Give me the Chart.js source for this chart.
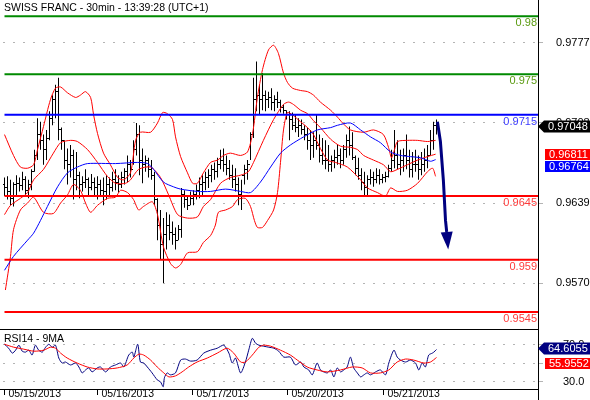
<!DOCTYPE html>
<html lang="en">
<head>
  <meta charset="UTF-8" />
  <title>Swiss Franc 30min</title>
  <script src="https://cdn.jsdelivr.net/npm/chart.js"></script>
  <style>
    body { margin: 0; background: #ffffff; }
    .wrap { position: relative; width: 590px; height: 400px; overflow: hidden; }
    #priceChart { position: absolute; left: 0; top: 0; }
    #rsiChart { position: absolute; left: 0; top: 329px; }
  </style>
</head>
<body>
  <div class="wrap">
    <canvas id="priceChart" width="590" height="329"></canvas>
    <canvas id="rsiChart" width="590" height="71"></canvas>
  </div>

  <script>
    const titleText = 'SWISS FRANC - 30min - 13:39:28 (UTC+1)';

    // 30 min bars, index 0 = first bar of 05/15/2013
    const highs = [
      .9661,.9662,.9659,.9657,.9663,.9661,.9666,.9662,.9659,.9668,
      .9685,.9712,.9709,.9698,.9702,.9718,.9732,.9741,.9747,.9704,
      .9693,.9686,.9689,.9685,.9683,.9666,.9662,.9668,.9661,.9664,
      .9661,.9662,.9659,.9661,.9663,.9661,.9666,.9668,.9663,.9666,
      .9669,.9680,.9676,.9693,.9708,.9706,.9686,.9680,.9678,.9676,
      .9666,.9643,.9633,.9626,.9631,.9629,.9623,.9618,.9620,.9652,
      .9650,.9646,.9649,.9650,.9655,.9661,.9663,.9666,.9668,.9672,
      .9674,.9678,.9685,.9686,.9680,.9676,.9672,.9669,.9661,.9659,
      .9672,.9676,.9700,.9747,.9761,.9741,.9751,.9736,.9735,.9738,
      .9732,.9735,.9728,.9724,.9719,.9718,.9717,.9715,.9712,.9711,
      .9706,.9704,.9702,.9700,.9715,.9698,.9695,.9693,.9689,.9680,
      .9685,.9689,.9686,.9689,.9698,.9705,.9700,.9680,.9678,.9669,
      .9666,.9663,.9668,.9666,.9669,.9668,.9664,.9666,.9672,.9685,
      .9702,.9693,.9685,.9686,.9698,.9685,.9683,.9685,.9680,.9683,
      .9686,.9689,.9702,.9709,.9711
    ];
    const lows = [
      .9645,.9642,.9637,.9636,.9646,.9649,.9650,.9646,.9643,.9650,
      .9666,.9676,.9685,.9672,.9676,.9693,.9706,.9712,.9693,.9685,
      .9668,.9655,.9661,.9642,.9650,.9643,.9649,.9652,.9645,.9650,
      .9646,.9642,.9646,.9637,.9642,.9646,.9649,.9650,.9648,.9652,
      .9655,.9657,.9661,.9672,.9680,.9663,.9656,.9666,.9661,.9659,
      .9637,.9607,.9590,.9570,.9599,.9607,.9603,.9599,.9607,.9609,
      .9635,.9633,.9637,.9637,.9642,.9643,.9646,.9650,.9652,.9657,
      .9659,.9661,.9668,.9666,.9663,.9659,.9652,.9649,.9637,.9633,
      .9655,.9659,.9676,.9695,.9718,.9715,.9719,.9718,.9721,.9719,
      .9718,.9721,.9717,.9716,.9711,.9693,.9702,.9700,.9696,.9698,
      .9693,.9685,.9676,.9678,.9685,.9674,.9672,.9668,.9666,.9666,
      .9669,.9672,.9669,.9672,.9678,.9680,.9676,.9663,.9659,.9650,
      .9646,.9645,.9655,.9653,.9656,.9655,.9656,.9657,.9661,.9666,
      .9669,.9668,.9663,.9666,.9668,.9661,.9661,.9666,.9659,.9663,
      .9666,.9669,.9680,.9685,.9698
    ];
    const opens = [
      .9655,.9652,.9649,.9643,.9655,.9656,.9654,.9659,.9650,.9655,
      .9666,.9680,.9698,.9693,.9685,.9695,.9712,.9728,.9735,.9702,
      .9693,.9676,.9672,.9680,.9659,.9663,.9655,.9657,.9659,.9652,
      .9657,.9652,.9655,.9650,.9649,.9655,.9652,.9659,.9657,.9655,
      .9661,.9666,.9672,.9668,.9685,.9698,.9676,.9672,.9676,.9668,
      .9663,.9642,.9620,.9603,.9612,.9620,.9614,.9612,.9607,.9616,
      .9646,.9642,.9637,.9643,.9646,.9650,.9655,.9657,.9661,.9663,
      .9668,.9666,.9672,.9676,.9672,.9669,.9663,.9659,.9655,.9646,
      .9663,.9668,.9672,.9698,.9728,.9732,.9728,.9732,.9728,.9730,
      .9726,.9728,.9726,.9721,.9719,.9715,.9711,.9706,.9704,.9706,
      .9702,.9698,.9693,.9689,.9693,.9689,.9680,.9676,.9676,.9672,
      .9676,.9678,.9680,.9676,.9685,.9693,.9689,.9678,.9669,.9663,
      .9657,.9652,.9659,.9661,.9659,.9663,.9659,.9661,.9662,.9669,
      .9676,.9680,.9672,.9676,.9680,.9676,.9668,.9672,.9672,.9668,
      .9672,.9676,.9680,.9693,.9706
    ];
    const closes = [
      .9652,.9649,.9643,.9655,.9656,.9654,.9659,.9650,.9655,.9666,
      .9680,.9698,.9693,.9685,.9695,.9712,.9728,.9735,.9702,.9693,
      .9676,.9672,.9680,.9659,.9663,.9655,.9657,.9659,.9652,.9657,
      .9652,.9655,.9650,.9649,.9655,.9652,.9659,.9657,.9655,.9661,
      .9666,.9672,.9668,.9685,.9698,.9676,.9672,.9676,.9668,.9663,
      .9642,.9620,.9603,.9612,.9620,.9614,.9612,.9607,.9616,.9646,
      .9642,.9637,.9643,.9646,.9650,.9655,.9657,.9661,.9663,.9668,
      .9666,.9672,.9676,.9672,.9669,.9663,.9659,.9655,.9646,.9663,
      .9668,.9672,.9698,.9728,.9732,.9728,.9732,.9728,.9730,.9726,
      .9728,.9726,.9721,.9719,.9715,.9711,.9706,.9704,.9706,.9702,
      .9698,.9693,.9689,.9693,.9689,.9680,.9676,.9676,.9672,.9676,
      .9678,.9680,.9676,.9685,.9693,.9689,.9678,.9669,.9663,.9657,
      .9652,.9659,.9661,.9659,.9663,.9659,.9661,.9662,.9669,.9676,
      .9680,.9672,.9676,.9680,.9676,.9668,.9672,.9672,.9668,.9672,
      .9676,.9680,.9693,.9706,.97048
    ];

    // [bar index, price]
    const upperBand = [[0,.9698],[3,.9680],[5.3,.9670],[7.7,.9669],[9.7,.9672],[11,.9685],[13,.9705],[15.3,.9728],[17,.9738],[18.7,.9739],[21,.9734],[23.7,.9730],[25.3,.9732],[27,.9735],[28.7,.9730],[29.7,.9715],[31,.9699],[33,.9682],[35.3,.9672],[37.7,.9661],[39.7,.9659],[42,.9665],[43.7,.9693],[45.3,.9700],[48.7,.9700],[51,.9708],[52.7,.9717],[54.3,.9716],[56,.9711],[57,.9696],[58.7,.9679],[61,.9665],[62.7,.9656],[64.3,.9656],[66.3,.9665],[68.7,.9674],[71,.9676],[73,.9680],[75.3,.9682],[78.7,.9680],[81,.9683],[82.7,.9699],[84.3,.9730],[86,.9754],[88,.9771],[89.7,.9775],[91.3,.9768],[93,.9751],[94.3,.9743],[96,.9738],[98.7,.9736],[101,.9735],[103,.9732],[105.3,.9726],[108.7,.9719],[111,.9713],[112.7,.9708],[115.3,.9702],[119.7,.9700],[123,.9702],[126.3,.9698],[128,.9687],[129,.9678],[130,.9685],[131,.9692],[134.3,.9693],[137.7,.9693],[141,.9692],[143.7,.9693]];
    const middleBand = [[0,.9629],[2,.9637],[5.3,.9643],[7.7,.9648],[9.7,.9659],[13,.9668],[16.3,.9682],[18.7,.9691],[22,.9693],[24.3,.9692],[27.7,.9685],[31,.9674],[34.3,.9662],[37,.9656],[40.3,.9656],[42,.9659],[44.7,.9668],[48.7,.9670],[52,.9661],[54.7,.9646],[57.7,.9629],[61,.9626],[64.3,.9627],[66.3,.9636],[68.7,.9642],[72,.9656],[75.3,.9661],[78.7,.9663],[81.3,.9666],[83,.9674],[86.3,.9693],[89.7,.9711],[93,.9724],[94.7,.9726],[96.3,.9724],[98.7,.9719],[101,.9716],[103,.9710],[105.3,.9704],[108.7,.9694],[112,.9688],[115.3,.9687],[117.7,.9685],[119.7,.9680],[123,.9676],[126.3,.9672],[128.7,.9666],[131,.9668],[134.3,.9672],[137.7,.9676],[141,.9679],[143.7,.96811]];
    const lowerBand = [[0.3,.9564],[2,.9593],[3,.9616],[5.3,.9633],[7.7,.9639],[9.7,.9644],[13,.9631],[16.3,.9630],[18.7,.9639],[21,.9646],[23,.9655],[25.3,.9650],[27,.9639],[28.7,.9631],[31,.9637],[34.3,.9643],[37,.9644],[38.7,.9650],[41,.9648],[43,.9642],[44.7,.9633],[46.3,.9636],[49.3,.9640],[51,.9629],[53,.9601],[55.3,.9587],[57,.9583],[58.7,.9586],[61,.9596],[64.3,.9597],[66.3,.9605],[68.7,.9611],[70.3,.9620],[71.3,.9631],[73.7,.9633],[76,.9636],[77.7,.9642],[80.3,.9643],[82,.9636],[83.3,.9624],[84.3,.9618],[86,.9618],[87.7,.9624],[89.7,.9633],[91,.9648],[92,.9674],[93,.9702],[94.3,.9717],[96,.9715],[98.7,.9709],[101,.9704],[103,.9698],[105.3,.9686],[107.7,.9676],[110.3,.9674],[114.3,.9670],[118.7,.9659],[121,.9652],[124.3,.9648],[127,.9645],[128.7,.9652],[131,.9649],[134.3,.9650],[137.7,.9656],[141,.9666],[142.7,.9669],[143.7,.9662]];
    const maLine = [[0,.9581],[3,.9593],[7.7,.9607],[9.7,.9613],[12,.9624],[14.3,.9636],[17.7,.9653],[21,.9665],[24.3,.9670],[27.7,.9673],[37,.9673],[44.3,.9674],[47.7,.9673],[49.7,.9668],[53,.9657],[56.3,.9653],[58.7,.9651],[64.3,.9649],[68.7,.9649],[73.7,.9651],[78.7,.9649],[82,.9648],[85.3,.9657],[88.7,.9670],[92,.9682],[95.3,.9689],[99.7,.9696],[104.3,.9702],[108.7,.9704],[111,.9706],[115.3,.9708],[118.7,.9702],[122,.9696],[125.3,.9691],[128.7,.9683],[132,.9680],[135.3,.9679],[138.7,.9678],[142,.9675],[143.7,.96764]];

    // RSI14 and its 9 period average, [bar index, value]
    const rsiLine = [[0,70.3],[1.4,66.0],[2.6,60.7],[3.7,63.9],[4.8,69.3],[5.9,62.8],[7,61.8],[8.1,63.9],[9.2,58.6],[10.3,69.3],[11.4,63.9],[12.6,61.8],[13.7,67.1],[14.8,70.3],[15.9,67.1],[17,69.3],[18.1,55.4],[19.2,50.0],[20.3,51.1],[22,47.9],[23.7,50.0],[24.8,45.7],[25.9,39.3],[27,42.5],[28.1,44.7],[29.2,40.4],[30.9,44.7],[32,45.7],[33.7,40.4],[35.3,45.7],[37,47.9],[38.7,50.0],[39.8,45.7],[41.4,58.6],[42.6,61.8],[43.1,56.4],[44.4,70.3],[45.3,51.1],[46.4,50.0],[47.6,45.7],[49.2,39.3],[50.9,31.8],[52,29.6],[52.9,24.3],[53.3,34.0],[54.2,39.3],[55.3,37.2],[57,39.3],[58.7,53.2],[60.3,54.3],[62,52.1],[64.2,53.2],[66.4,60.7],[68.7,63.9],[70.9,66.0],[73.1,69.3],[74.8,60.7],[75.9,50.0],[77,55.4],[78.7,39.3],[80.3,51.1],[81.4,63.9],[82.6,76.7],[83.7,71.4],[84.8,69.3],[86.4,68.2],[88.1,67.1],[89.8,66.0],[91.4,62.8],[93.1,56.4],[95.3,56.4],[97,47.9],[98.7,51.1],[99.8,45.7],[101.4,42.5],[102.6,37.2],[104.2,50.0],[105.3,42.5],[106.4,40.4],[107.6,39.3],[108.7,42.5],[109.8,35.0],[110.9,44.7],[112,40.4],[113.1,42.5],[114.2,45.7],[115.3,56.4],[116.4,44.7],[117.6,39.3],[118.7,35.0],[119.8,37.2],[120.9,39.3],[122,37.2],[123.7,40.4],[125.3,42.5],[127,37.2],[128.1,50.0],[129.8,63.9],[130.9,56.4],[132,53.2],[133.7,51.1],[135.3,53.2],[137,50.0],[138.1,42.5],[139.2,50.0],[140.3,45.7],[141.4,58.6],[142.6,60.7],[143.1,61.8],[144,64.6055]];
    const rsiAvg = [[0,70.3],[3.1,67.1],[6.4,65.0],[9.8,62.8],[13.1,63.9],[15.3,67.1],[17,66.0],[18.7,60.7],[20.9,55.4],[24.2,50.0],[27.6,45.7],[30.9,43.6],[34.2,43.6],[37.6,44.7],[40.9,47.9],[43.1,55.4],[44.8,59.6],[46.4,58.6],[48.7,53.2],[50.9,45.7],[53.1,39.3],[54.8,35.0],[57,36.1],[59.2,40.4],[61.4,45.7],[64.2,51.1],[67.6,55.4],[70.9,60.7],[74.2,66.0],[76.4,60.7],[78.7,51.1],[80.3,51.1],[82.6,58.6],[84.8,67.1],[86.4,69.3],[88.7,68.2],[92,63.9],[95.3,58.6],[97.6,53.2],[100.9,45.7],[104.2,42.5],[107.6,40.4],[112,42.5],[115.9,45.7],[119.2,44.7],[122,39.3],[125.3,39.3],[128.1,42.5],[130.9,51.1],[133.7,54.3],[136.4,53.2],[139.8,50.0],[142,51.1],[144,55.9552]];

    const levelValues = [0.98, 0.975, 0.9715, 0.9645, 0.959, 0.9545];
    const levelColors = ['#008a00', '#008a00', '#0000ff', '#ff0000', '#ff0000', '#ff0000'];
    const levelTextColors = ['#5a9a10', '#5a9a10', '#3b3bff', '#ff3b3b', '#ff3b3b', '#ff3b3b'];

    const priceTicks = [0.9777, 0.9708, 0.9639, 0.9570];
    const rsiTicks = [30, 50, 70];
    const rsiTickLabels = ['30.0', '', '70.0'];
    const dayTicks = [0, 31, 62.7, 94.3, 126.3];
    const dayLabels = ['05/15/2013', '05/16/2013', '05/17/2013', '05/20/2013', '05/21/2013'];

    const arrowPath = [[144.3, 0.9709], [145.3, 0.9692], [146.3, 0.9658], [147, 0.9624], [147.4, 0.9614]];
    const arrowTip = [147.9, 0.9599];

    const xMin = -0.5, xMax = 177.83;
    const priceMin = 0.95304, priceMax = 0.9814;
    const rsiMin = 21.9, rsiMax = 86.8;

    Chart.defaults.font.family = "'Liberation Sans', Arial, sans-serif";
    Chart.defaults.font.size = 11;
    Chart.defaults.color = '#000';

    const toPoints = pairs => pairs.map(p => ({ x: p[0], y: p[1] }));
    const lineSet = (pairs, color, order) => ({
      type: 'line', data: toPoints(pairs), borderColor: color, borderWidth: 1,
      pointRadius: 0, tension: 0.25, order: order
    });

    function arrowBox(ctx, tipX, cy, color, text) {
      ctx.fillStyle = color;
      ctx.beginPath();
      ctx.moveTo(tipX, cy);
      ctx.lineTo(tipX + 6, cy - 6);
      ctx.lineTo(590, cy - 6);
      ctx.lineTo(590, cy + 6);
      ctx.lineTo(tipX + 6, cy + 6);
      ctx.closePath();
      ctx.fill();
      ctx.fillStyle = '#fff';
      ctx.fillText(text, tipX + 10, cy + 0.5);
    }

    function flatBox(ctx, left, top, color, text) {
      ctx.fillStyle = color;
      ctx.fillRect(left, top, 590 - left, 11);
      ctx.fillStyle = '#fff';
      ctx.fillText(text, left + 4, top + 6);
    }

    const ohlcTicks = {
      id: 'ohlcTicks',
      afterDatasetDraw(chart, args) {
        if (args.index !== 0) return;
        const { ctx, scales: { x, y } } = chart;
        ctx.save();
        ctx.fillStyle = '#000';
        for (let i = 0; i < closes.length; i++) {
          const col = Math.round(x.getPixelForValue(i) - 0.5);
          ctx.fillRect(col - 1, Math.round(y.getPixelForValue(opens[i]) - 0.5), 1, 1);
          ctx.fillRect(col + 1, Math.round(y.getPixelForValue(closes[i]) - 0.5), 1, 1);
        }
        ctx.restore();
      }
    };

    const priceDecor = {
      id: 'priceDecor',
      afterDatasetsDraw(chart) {
        const { ctx, scales: { x, y } } = chart;
        // forecast arrow
        const pts = arrowPath.map(p => [x.getPixelForValue(p[0]), y.getPixelForValue(p[1])]);
        const tip = [x.getPixelForValue(arrowTip[0]), y.getPixelForValue(arrowTip[1])];
        ctx.save();
        ctx.strokeStyle = '#000080';
        ctx.fillStyle = '#000080';
        ctx.lineWidth = 3;
        ctx.lineJoin = 'round';
        ctx.beginPath();
        pts.forEach((p, i) => i ? ctx.lineTo(p[0], p[1]) : ctx.moveTo(p[0], p[1]));
        ctx.stroke();
        const last = pts[pts.length - 1];
        const dx = tip[0] - last[0], dy = tip[1] - last[1];
        const len = Math.hypot(dx, dy);
        const nx = -dy / len * 6, ny = dx / len * 6;
        ctx.beginPath();
        ctx.moveTo(tip[0], tip[1]);
        ctx.lineTo(last[0] + nx, last[1] + ny);
        ctx.lineTo(last[0] - nx, last[1] - ny);
        ctx.closePath();
        ctx.fill();
        ctx.restore();
      },
      afterDraw(chart) {
        const { ctx, chartArea: area, scales: { y } } = chart;
        ctx.save();
        // right frame line
        ctx.strokeStyle = '#000';
        ctx.lineWidth = 1;
        ctx.beginPath();
        ctx.moveTo(area.right + 0.5, 0);
        ctx.lineTo(area.right + 0.5, chart.height);
        ctx.stroke();

        ctx.font = "10.5px 'Liberation Sans', Arial, sans-serif";
        ctx.fillStyle = '#000';
        ctx.textBaseline = 'alphabetic';
        ctx.textAlign = 'left';
        ctx.fillText(titleText, 4, 11);

        ctx.font = "11px 'Liberation Sans', Arial, sans-serif";
        ctx.textAlign = 'right';
        ctx.textBaseline = 'middle';
        levelValues.forEach((v, i) => {
          ctx.fillStyle = levelTextColors[i];
          ctx.fillText(String(v), area.right - 1, y.getPixelForValue(v) + 7);
        });

        ctx.textAlign = 'left';
        const lastClose = closes[closes.length - 1];
        const lastMid = middleBand[middleBand.length - 1][1];
        const lastMa = maLine[maLine.length - 1][1];
        arrowBox(ctx, area.right, Math.round(y.getPixelForValue(lastClose)) - 0.5, '#000000', lastClose.toFixed(5));
        const midTop = Math.round(y.getPixelForValue(lastMid) - 5.5);
        flatBox(ctx, area.right + 7, midTop, '#ff0000', lastMid.toFixed(5));
        const maTop = Math.max(midTop + 12, Math.round(y.getPixelForValue(lastMa) - 5.5));
        flatBox(ctx, area.right + 7, maTop, '#0000ff', lastMa.toFixed(5));
        ctx.restore();
      }
    };

    const rsiDecor = {
      id: 'rsiDecor',
      afterDraw(chart) {
        const { ctx, chartArea: area, scales: { y } } = chart;
        ctx.save();
        ctx.strokeStyle = '#000';
        ctx.lineWidth = 1;
        ctx.beginPath();
        ctx.moveTo(0, area.top + 0.5);
        ctx.lineTo(area.right, area.top + 0.5);
        ctx.moveTo(0, area.bottom + 0.5);
        ctx.lineTo(area.right, area.bottom + 0.5);
        ctx.moveTo(area.right + 0.5, 0);
        ctx.lineTo(area.right + 0.5, chart.height);
        ctx.stroke();

        ctx.font = "10.5px 'Liberation Sans', Arial, sans-serif";
        ctx.fillStyle = '#000';
        ctx.textBaseline = 'alphabetic';
        ctx.fillText('RSI14 - 9MA', 4, 13);

        ctx.font = "11px 'Liberation Sans', Arial, sans-serif";
        ctx.textBaseline = 'middle';
        const lastRsi = rsiLine[rsiLine.length - 1][1];
        const lastAvg = rsiAvg[rsiAvg.length - 1][1];
        const rsiY = Math.round(y.getPixelForValue(lastRsi)) - 1.5;
        arrowBox(ctx, area.right, rsiY, '#000080', lastRsi.toFixed(4));
        const avgTop = Math.max(Math.round(rsiY + 9), Math.round(y.getPixelForValue(lastAvg) - 5.5));
        flatBox(ctx, area.right + 7, avgTop, '#ff0000', lastAvg.toFixed(4));
        ctx.restore();
      }
    };

    const levelSets = levelValues.map((v, i) => ({
      type: 'line', data: [{ x: 0, y: v }, { x: xMax, y: v }],
      borderColor: levelColors[i], borderWidth: 2, pointRadius: 0, order: 1
    }));

    const dottedGrid = {
      color: '#b4b4b4', tickLength: 5, tickColor: '#b4b4b4'
    };

    new Chart(document.getElementById('priceChart').getContext('2d'), {
      type: 'bar',
      data: {
        datasets: [
          {
            type: 'bar',
            data: highs.map((h, i) => ({ x: i, y: [lows[i], h] })),
            backgroundColor: '#000000',
            barThickness: 1,
            inflateAmount: 0,
            order: 10
          },
          lineSet(upperBand, '#ff0000', 5),
          lineSet(middleBand, '#ff0000', 5),
          lineSet(lowerBand, '#ff0000', 5),
          lineSet(maLine, '#0000ff', 4),
          ...levelSets
        ]
      },
      options: {
        responsive: false,
        animation: false,
        layout: { padding: { left: 3, right: 0, top: 0, bottom: 0 } },
        plugins: { legend: { display: false }, tooltip: { enabled: false } },
        scales: {
          x: { type: 'linear', display: false, min: xMin, max: xMax, offset: false, grid: { offset: false } },
          y: {
            position: 'right',
            min: priceMin,
            max: priceMax,
            afterBuildTicks: axis => { axis.ticks = priceTicks.map(v => ({ value: v })); },
            afterFit: axis => { axis.width = 52; axis.paddingTop = 0; axis.paddingBottom = 0; },
            ticks: { padding: 13, autoSkip: false, callback: v => v.toFixed(4) },
            grid: dottedGrid,
            border: { display: false, dash: [2, 8] }
          }
        }
      },
      plugins: [ohlcTicks, priceDecor]
    });

    new Chart(document.getElementById('rsiChart').getContext('2d'), {
      type: 'line',
      data: {
        datasets: [
          lineSet(rsiLine, '#000080', 2),
          lineSet(rsiAvg, '#ff0000', 1)
        ]
      },
      options: {
        responsive: false,
        animation: false,
        layout: { padding: { left: 3, right: 0, top: 0, bottom: 0 } },
        plugins: { legend: { display: false }, tooltip: { enabled: false } },
        scales: {
          x: {
            type: 'linear',
            min: xMin,
            max: xMax,
            offset: false,
            afterBuildTicks: axis => { axis.ticks = dayTicks.map(v => ({ value: v })); },
            afterFit: axis => { axis.height = 11; axis.paddingLeft = 0; axis.paddingRight = 0; },
            ticks: {
              align: 'start', labelOffset: 4, padding: -7, autoSkip: false, maxRotation: 0,
              font: { size: 10.5 },
              callback: (v, i) => dayLabels[i]
            },
            grid: { drawOnChartArea: false, tickLength: 6, color: '#000000' },
            border: { display: false }
          },
          y: {
            position: 'right',
            min: rsiMin,
            max: rsiMax,
            afterBuildTicks: axis => { axis.ticks = rsiTicks.map(v => ({ value: v })); },
            afterFit: axis => { axis.width = 52; axis.paddingTop = 0; axis.paddingBottom = 0; },
            ticks: { padding: 20, autoSkip: false, callback: (v, i) => rsiTickLabels[i] },
            grid: dottedGrid,
            border: { display: false, dash: [2, 8] }
          }
        }
      },
      plugins: [rsiDecor]
    });
  </script>
</body>
</html>
